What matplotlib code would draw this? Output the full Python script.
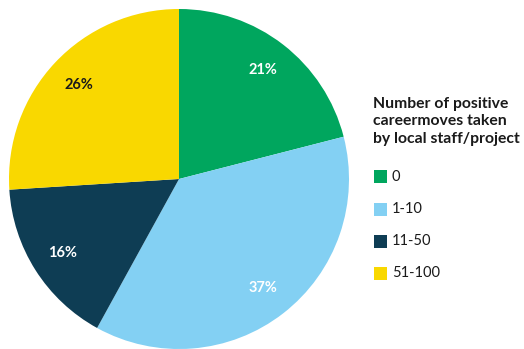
import matplotlib
matplotlib.use("Agg")
import matplotlib.pyplot as plt
from matplotlib.patches import Rectangle

# career moves taken by local staff per project
categories = ["0", "1-10", "11-50", "51-100"]
shares = [21, 37, 16, 26]
colors = ["#00A65E", "#83D0F3", "#0E3D54", "#F9D800"]
text_colors = ["white", "white", "white", "#1a1a1a"]
legend_title = "Number of positive\ncareermoves taken\nby local staff/project"

plt.rcParams['font.family'] = ['Lato', 'DejaVu Sans']

fig = plt.figure(figsize=(5.24, 3.49), dpi=100)
ax = fig.add_axes([9 / 524, 0, 340 / 524, 340 / 349])

wedges, texts, autotexts = ax.pie(
    shares, colors=colors, startangle=90, counterclock=False,
    autopct="%d%%", pctdistance=0.81, radius=1.0,
    wedgeprops=dict(linewidth=0),
)
for t, c in zip(autotexts, text_colors):
    t.set_color(c)
    t.set_fontsize(10.5)
    t.set_fontweight("bold")
ax.set_xlim(-1, 1)
ax.set_ylim(-1, 1)
ax.set_aspect("equal")

# legend drawn by hand on the right
W, H = 524, 349
fig.text(373 / W, 1 - 97 / H, legend_title, ha="left", va="top",
         fontsize=11.3, fontweight="bold", color="#1a1a1a", linespacing=1.3)
for i, (lab, c) in enumerate(zip(categories, colors)):
    yc = 177 + 32 * i
    fig.patches.append(Rectangle((374 / W, 1 - (yc + 6.5) / H), 13 / W, 13 / H,
                                 transform=fig.transFigure, color=c, lw=0))
    fig.text(392 / W, 1 - yc / H, lab, ha="left", va="center",
             fontsize=10.5, color="#1a1a1a")

fig.savefig("out.png", dpi=100)
